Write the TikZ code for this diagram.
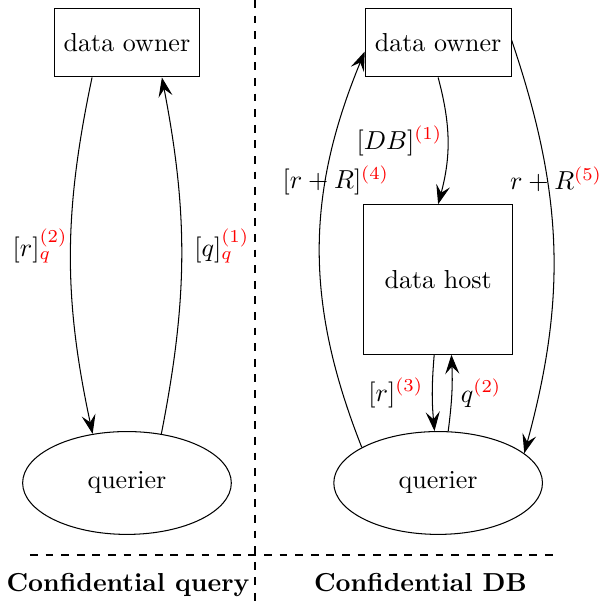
\documentclass[tikz,border=0pt]{standalone}
\usepackage{xcolor}
\usepackage{tikz}
\usetikzlibrary{arrows.meta,positioning,shapes.geometric}

\begin{document}
\begin{tikzpicture}[>={Stealth[length=2.6mm, width=1.9mm, inset=1mm]},
  owner/.style={draw, rectangle, minimum width=1.97cm, minimum height=.93cm},
  host/.style={draw, rectangle, minimum width=2.02cm, minimum height=2.02cm},
  user/.style={draw, ellipse, minimum width=2.82cm, minimum height=1.39cm},
  split/.style={dashed, thick},
  title/.style={anchor=base, font=\bfseries}]

\useasboundingbox (-3.446,-0.676) rectangle (4.703,7.5);

\draw[split] (0,7.5) -- (0,-0.676);
\draw[split] (-3.041,0) -- (4.054,0);

%%%%%%%%%%%%%%%
\node[owner] (O) at (-1.73,6.925) {data owner};
\node[user] (Q) at (-1.73,0.973) {querier};

\draw[->] (O.225) to[bend right=12] node[pos=.47, left, xshift=.8mm] {$[r]_q^{\color{red}(2)}$} (Q.125);
\draw[->] (Q.55) to[bend right=11] node[pos=.53, right, xshift=.5mm] {$[q]_q^{\color{red}(1)}$} (O.315);

\node[title] (t) at (-1.716,-0.49) {Confidential query};

%%%%%%%%%%%%%%%
\begin{scope}[shift={(4.205,0)}]
\node[owner] (O) at (-1.73,6.925) {data owner};
\node[host] (H) at (-1.73,3.723) {data host};
\node[user] (Q) at (-1.73,0.973) {querier};

\draw[->] (O.south) to[bend left=15] node[left, xshift=.5mm] {$[DB]^{\color{red}(1)}$} (H.north);
\draw[->] (H.267) to[bend right=5] node[left] {$[r]^{\color{red}(3)}$} (Q.94);
\draw[->] (Q.79) to[bend right=5] node[right] {$q^{\color{red}(2)}$} (H.280);
\draw[->] (Q.155) to[bend left=22] node[pos=.68, xshift=1.35mm] {$[r+R]^{\color{red}(4)}$} (O.187);
\draw[->] (O.2) to[bend left=17] node[pos=.33, xshift=1.2mm] {$r+R^{\color{red}(5)}$} (Q.19);

\node[title] (t) at (-1.969,-0.49) {Confidential DB};
\end{scope}

\end{tikzpicture}
\end{document}
